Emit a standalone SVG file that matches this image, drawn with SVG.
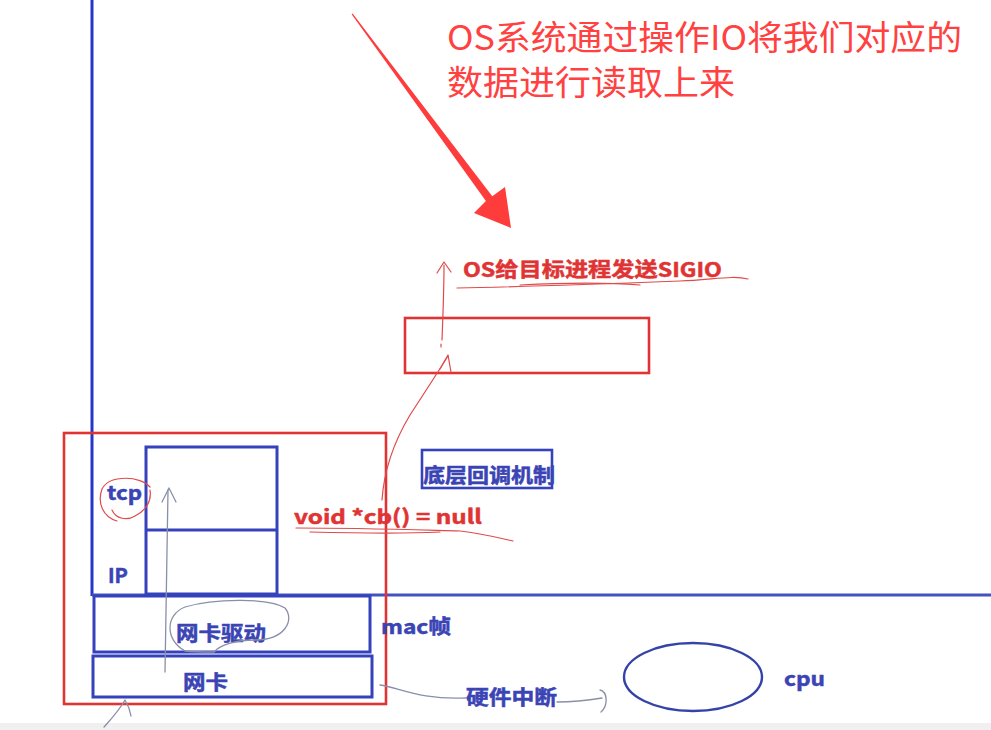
<svg xmlns="http://www.w3.org/2000/svg" width="991" height="730" viewBox="0 0 991 730">
<style>
.bl{fill:none;stroke:#3443bb;stroke-width:3}
.rd{fill:none;stroke:#e03434;stroke-width:2.6}
.lb{font-family:"Noto Sans CJK SC","Noto Sans",sans-serif;font-weight:bold;font-size:20px;fill:#3a44b4;stroke:#3a44b4;stroke-width:0.5}
.lr{font-family:"Noto Sans CJK SC","Noto Sans",sans-serif;font-weight:bold;font-size:20px;fill:#e03434;stroke:#e03434;stroke-width:0.5}
.big{font-family:"Noto Sans CJK SC","Noto Sans",sans-serif;font-size:34px;fill:#ff4141}
.thr{fill:none;stroke:#e04a4a;stroke-width:1.2;stroke-linecap:round;stroke-linejoin:round}
.thg{fill:none;stroke:#8a8fa8;stroke-width:1.3;stroke-linecap:round;stroke-linejoin:round}
</style>
<rect x="0" y="0" width="991" height="730" fill="#ffffff"/>
<rect x="0" y="723" width="991" height="7" fill="#f0f0f0"/>

<g id="kernel-boundary">
<line x1="92" y1="0" x2="92" y2="596" stroke="#2536c8" stroke-width="3"/>
<line x1="92" y1="595" x2="991" y2="595" stroke="#4452c0" stroke-width="3"/>
</g>

<g id="note-os-read">
<text class="big" x="447" y="50" textLength="515" lengthAdjust="spacingAndGlyphs">OS系统通过操作IO将我们对应的</text>
<text class="big" x="447" y="95" textLength="288" lengthAdjust="spacingAndGlyphs">数据进行读取上来</text>
</g>

<g id="sigio-label">
<text class="lr" x="463" y="277" textLength="259" lengthAdjust="spacingAndGlyphs">OS给目标进程发送SIGIO</text>
</g>

<g id="process-box">
<rect class="rd" x="405" y="318" width="244" height="55"/>
</g>

<g id="stack-box">
<rect class="rd" x="64" y="433" width="322" height="271"/>
</g>

<g id="tcp-ip-box">
<rect class="bl" x="146" y="447" width="131" height="147"/>
<line class="bl" x1="146" y1="530" x2="277" y2="530"/>
<text class="lb" x="107" y="500" textLength="35" lengthAdjust="spacingAndGlyphs">tcp</text>
<text class="lb" x="108" y="583">IP</text>
</g>

<g id="nic-driver-box">
<rect class="bl" x="94" y="596" width="276" height="56"/>
<text class="lb" x="176" y="641" textLength="90" lengthAdjust="spacingAndGlyphs">网卡驱动</text>
</g>

<g id="mac-label">
<text class="lb" x="381" y="634" textLength="70" lengthAdjust="spacingAndGlyphs">mac帧</text>
</g>

<g id="nic-box">
<rect class="bl" x="93" y="656" width="279" height="41"/>
<text class="lb" x="183" y="690" textLength="45" lengthAdjust="spacingAndGlyphs">网卡</text>
</g>

<g id="callback-box">
<rect x="422" y="450" width="130" height="38" fill="none" stroke="#3443bb" stroke-width="2.6"/>
<text class="lb" x="423" y="483" textLength="132" lengthAdjust="spacingAndGlyphs">底层回调机制</text>
</g>

<g id="callback-code">
<text class="lr" x="294" y="524" textLength="188" lengthAdjust="spacingAndGlyphs">void *cb() = null</text>
</g>

<g id="interrupt-label">
<text class="lb" x="466" y="705" textLength="91" lengthAdjust="spacingAndGlyphs">硬件中断</text>
</g>

<g id="cpu">
<ellipse cx="693" cy="677" rx="69" ry="34" fill="none" stroke="#3443a8" stroke-width="2.4"/>
<text class="lb" x="784" y="686" textLength="41" lengthAdjust="spacingAndGlyphs">cpu</text>
</g>

<g id="connectors">
<polygon points="351.6,14.3 485.9,201.1 474,213 511,228 505,187 492.3,196.3 352.6,13.6" fill="#ff3c3c"/>
<path class="thr" d="M441,347 L441,344 M442,340 C443,315 444,290 444,265"/>
<path class="thr" d="M437,273 L444,262 L451,272"/>
<path class="thr" d="M382,500 C384,470 395,440 410,415 C425,392 438,372 448,356"/>
<path class="thr" d="M440,369 L448,355 L451,372"/>
<path class="thr" d="M457,288 C520,287 600,284 680,281 C712,280 732,275 748,279"/>
<path class="thr" d="M520,285 C560,283 600,282 640,285"/>
<path class="thr" d="M296,528 C360,528 420,530 460,531 C480,533 500,538 513,541"/>
<path class="thr" d="M310,532 C350,533 400,534 440,532"/>
<path class="thr" d="M150,487 C141,476 110,474 102,489 C97,503 103,517 117,521 M112,510 C116,519 127,521 135,516 C145,511 152,502 150,490"/>
<path class="thg" d="M165,672 L168,490"/>
<path class="thg" d="M162,502 L169,488 L176,502"/>
<path class="thg" d="M185,651 C165,640 165,615 185,607 C215,598 270,598 285,608 C295,620 285,640 255,640 C235,640 220,645 214,652 M185,651 C195,652 205,652 214,652"/>
<path class="thg" d="M380,685 C400,688 420,700 466,698"/>
<path class="thg" d="M557,702 C575,702 590,700 602,698"/>
<path class="thg" d="M600,690 C608,692 608,706 601,712"/>
<path class="thg" d="M104,727 C112,718 118,712 125,700 C128,705 130,710 131,716"/>
</g>
</svg>
